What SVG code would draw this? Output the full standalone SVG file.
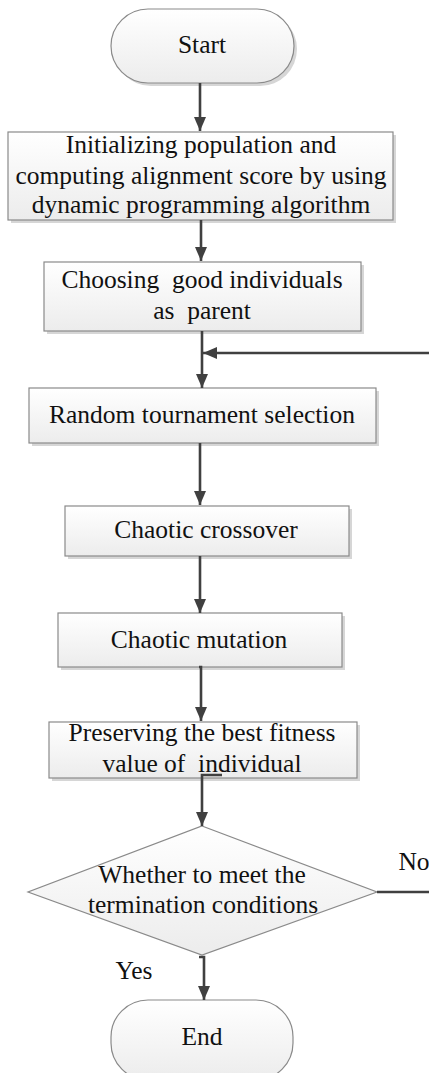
<svg xmlns="http://www.w3.org/2000/svg" width="429" height="1073" viewBox="0 0 429 1073">
<defs>
<linearGradient id="g" x1="0" y1="0" x2="0" y2="1">
<stop offset="0" stop-color="#ffffff"/>
<stop offset="1" stop-color="#ececec"/>
</linearGradient>
<marker id="ah" markerWidth="14" markerHeight="12" refX="14" refY="6" orient="auto" markerUnits="userSpaceOnUse">
<path d="M0,0 L14,6 L0,12 Z" fill="#404040"/>
</marker>
<style>
.box{fill:url(#g);stroke:#8a8a8a;stroke-width:1.2}
.sh{fill:#d6d6d6;stroke:none}
text{font-family:'Liberation Serif','Times New Roman',serif;font-size:25.5px;fill:#111;text-anchor:middle;white-space:pre}
.c{fill:none;stroke:#404040;stroke-width:2.6}
</style>
</defs>
<rect width="429" height="1073" fill="#ffffff"/>

<g id="start">
<rect class="sh" x="114" y="12" width="183" height="74" rx="37"/>
<rect class="box" x="111" y="9" width="183" height="74" rx="37"/>
<text x="202" y="53">Start</text>
</g>

<g id="init">
<rect class="sh" x="11" y="135" width="385" height="88"/>
<rect class="box" x="8" y="132" width="385" height="88"/>
<text x="201" y="153">Initializing population and</text>
<text x="201" y="184">computing alignment score by using</text>
<text x="201" y="213">dynamic programming algorithm</text>
</g>

<g id="choose">
<rect class="sh" x="47" y="265" width="317" height="69"/>
<rect class="box" x="44" y="262" width="317" height="69"/>
<text x="202" y="288" xml:space="preserve">Choosing  good individuals</text>
<text x="202" y="319" xml:space="preserve">as  parent</text>
</g>

<g id="random">
<rect class="sh" x="32" y="391" width="347" height="55"/>
<rect class="box" x="29" y="388" width="347" height="55"/>
<text x="202" y="423">Random tournament selection</text>
</g>

<g id="crossover">
<rect class="sh" x="68" y="509" width="284" height="50"/>
<rect class="box" x="65" y="506" width="284" height="50"/>
<text x="206" y="538">Chaotic crossover</text>
</g>

<g id="mutation">
<rect class="sh" x="61" y="616" width="284" height="54"/>
<rect class="box" x="58" y="613" width="284" height="54"/>
<text x="199" y="648">Chaotic mutation</text>
</g>

<g id="preserve">
<rect class="sh" x="52" y="725" width="308" height="56"/>
<rect class="box" x="49" y="722" width="308" height="56"/>
<text x="202" y="741">Preserving the best fitness</text>
<text x="202" y="772" xml:space="preserve">value of  individual</text>
</g>

<g id="decision">
<polygon class="box" points="202,826 377,892 202,955 28,892"/>
<text x="202" y="883">Whether to meet the</text>
<text x="203" y="913">termination conditions</text>
</g>

<g id="end">
<rect class="box" x="111" y="1000" width="182" height="80" rx="37"/>
<text x="202" y="1045">End</text>
</g>

<g id="connectors">
<line class="c" x1="200" y1="83" x2="200" y2="131" marker-end="url(#ah)"/>
<line class="c" x1="201" y1="220" x2="201" y2="261" marker-end="url(#ah)"/>
<line class="c" x1="202" y1="331" x2="202" y2="388" marker-end="url(#ah)"/>
<polyline class="c" points="429,353 203,353" marker-end="url(#ah)"/>
<line class="c" x1="200" y1="443" x2="200" y2="505" marker-end="url(#ah)"/>
<line class="c" x1="200" y1="556" x2="200" y2="613" marker-end="url(#ah)"/>
<polyline class="c" points="199,667 201,667 201,721" marker-end="url(#ah)"/>
<polyline class="c" points="222,775 202,775 202,826" marker-end="url(#ah)"/>
<line class="c" x1="377" y1="892" x2="429" y2="892"/>
<polyline class="c" points="199,957 204,957 204,1000" marker-end="url(#ah)"/>
<text x="414" y="870">No</text>
<text x="134" y="979">Yes</text>
</g>
</svg>
